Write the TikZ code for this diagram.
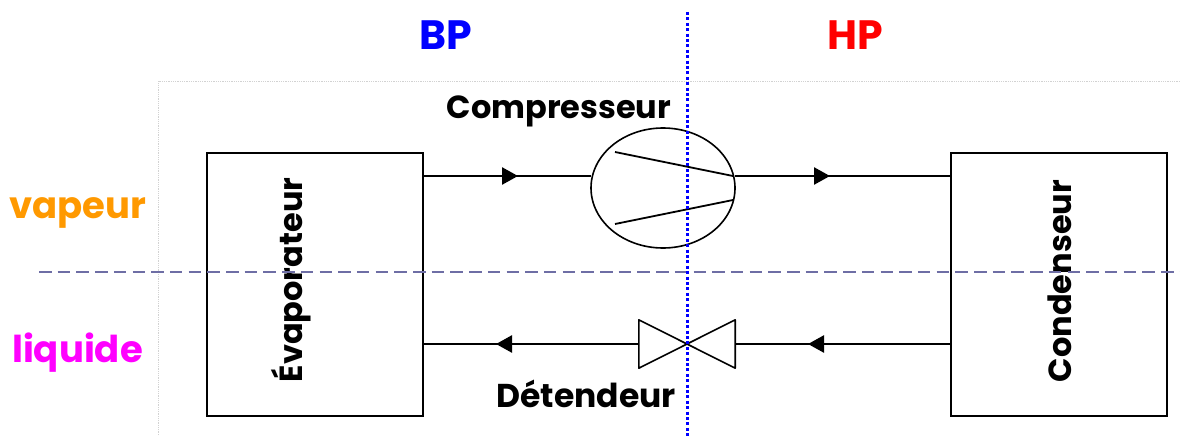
\documentclass[tikz,border=0pt]{standalone}
\usepackage{fontspec}
\setmainfont{Poppins}[BoldFont={Poppins Bold}]
\usetikzlibrary{shapes.geometric, arrows.meta}
\definecolor{orangevap}{RGB}{255,153,0}
\definecolor{dashline}{RGB}{110,110,165}
\definecolor{pureblue}{RGB}{0,0,255}
\definecolor{purered}{RGB}{255,0,0}
\definecolor{puremagenta}{RGB}{255,0,255}
\tikzstyle{unit} = [rectangle, draw=black, line width=2pt, minimum width=216pt, minimum height=263pt, inner sep=0pt]
\tikzstyle{partname} = [font=\bfseries\fontsize{32}{38}\selectfont, inner sep=0pt, anchor=base]
\tikzstyle{phase} = [font=\bfseries\fontsize{37}{44}\selectfont, inner sep=0pt, anchor=base]
\tikzstyle{zone} = [font=\bfseries\fontsize{41}{48}\selectfont, inner sep=0pt, anchor=base]
\tikzstyle{pipe} = [line width=1.5pt]
\tikzstyle{arrow} = [line width=2.5pt,-{Triangle[length=16pt,width=17pt]}]
\begin{document}
\begin{tikzpicture}[x=1pt,y=-1pt]
\useasboundingbox (0,0) rectangle (1180,436);

\draw [gray!35, densely dotted, line width=0.8pt] (1180,81) -- (158,81) -- (158,436);

\node (evap) [unit] at (315,284.5) {};
\node (cond) [unit] at (1059,284.5) {};
\node (comp) [ellipse, draw=black, line width=1.6pt, minimum width=144pt, minimum height=120pt, inner sep=0pt] at (663,188) {};
\node (valve) [rectangle, minimum width=96pt, minimum height=48pt, inner sep=0pt] at (687,344) {};

\node (evaplabel) [partname, rotate=90] at (302.5,280) {Évaporateur};
\node (condlabel) [partname, rotate=90] at (1071,281) {Condenseur};
\node (complabel) [partname] at (559,118) {Compresseur};
\node (detlabel) [partname, font=\bfseries\fontsize{33}{38}\selectfont] at (586,407) {Détendeur};
\node (bp) [zone, text=pureblue] at (446,50) {BP};
\node (hp) [zone, text=purered] at (855,50) {HP};
\node (vap) [phase, text=orangevap] at (78,218) {vapeur};
\node (liq) [phase, text=puremagenta] at (77.5,362) {liquide};

% pipe ends
\coordinate (evapout) at (423,176);
\coordinate (compin) at (591,176);
\coordinate (compout) at (735,176);
\coordinate (condin) at (951,176);
\coordinate (condout) at (951,344);
\coordinate (evapin) at (423,344);
\coordinate (a1) at (447,176);
\coordinate (a2) at (518,176);
\coordinate (b1) at (783,176);
\coordinate (b2) at (830,176);
\coordinate (c1) at (880,344);
\coordinate (c2) at (808,344);
\coordinate (d1) at (543,344);
\coordinate (d2) at (496,344);

\draw [pipe] (evapout) -- (compin);
\draw [pipe] (compout) -- (condin);
\draw [pipe] (condout) -- (valve.east);
\draw [pipe] (valve.west) -- (evapin);
\draw [arrow] (a1) -- (a2);
\draw [arrow] (b1) -- (b2);
\draw [arrow] (c1) -- (c2);
\draw [arrow] (d1) -- (d2);

% valve and compressor
\draw [line width=1.6pt, line join=round] (valve.north west) -- (valve.south east) -- (valve.north east) -- (valve.south west) -- cycle;
\coordinate (p1) at (615,152);
\coordinate (p2) at (733,176);
\coordinate (p3) at (615,224);
\coordinate (p4) at (733,200);
\draw [line width=1.8pt] (p1) -- (p2);
\draw [line width=1.8pt] (p3) -- (p4);

\coordinate (h1) at (39,272);
\coordinate (h2) at (1180,272);
\coordinate (v1) at (687,12);
\coordinate (v2) at (687,436);
\draw [dashline, line width=2.8pt, dash pattern=on 12.5pt off 6.2pt] (h1) -- (h2);
\draw [pureblue, line width=3pt, dash pattern=on 3pt off 2.4pt] (v1) -- (v2);
\end{tikzpicture}
\end{document}
